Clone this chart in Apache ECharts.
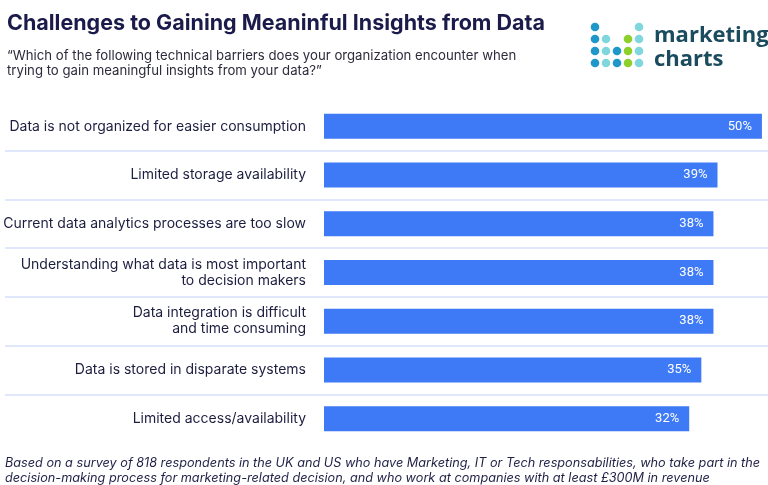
<!DOCTYPE html>
<html>
<head>
<meta charset="utf-8">
<script src="https://cdn.jsdelivr.net/npm/echarts@6/dist/echarts.min.js"></script>
<style>html,body{margin:0;padding:0;background:#fff}#c{width:768px;height:485px}</style>
</head>
<body>
<div id="c"></div>
<script>
const categories = [
  'Data is not organized for easier consumption',
  'Limited storage availability',
  'Current data analytics processes are too slow',
  'Understanding what data is most important\nto decision makers',
  'Data integration is difficult\nand time consuming',
  'Data is stored in disparate systems',
  'Limited access/availability'
];
const values = [50, 39, 38, 38, 38, 35, 32];

const titleText = 'Challenges to Gaining Meaninful Insights from Data';
const subtitleText = '\u201cWhich of the following technical barriers does your organization encounter when\ntrying to gain meaningful insights from your data?\u201d';
const footerText = 'Based on a survey of 818 respondents in the UK and US who have Marketing, IT or Tech responsabilities, who take part in the\ndecision-making process for marketing-related decision, and who work at companies with at least \u00a3300M in revenue';

const chart = echarts.init(document.getElementById('c'), null, {renderer: 'canvas'});

// logo dots (decoration)
const dotCols = [595, 606, 617, 628, 639];
const dotRows = [27, 39, 51, 63];
const B = '#1f97c9', L = '#7fd7dd', G = '#8dcf2b';
const dotPattern = [
  [B, null, null, null, L],
  [B, L, null, G, L],
  [B, L, B, G, L],
  [B, L, B, G, L]
];
const logo = [];
dotPattern.forEach((row, r) => row.forEach((col, c) => {
  if (col) logo.push({type: 'circle', shape: {cx: dotCols[c], cy: dotRows[r], r: 4.3}, style: {fill: col}, silent: true});
}));
logo.push({type: 'text', left: 654, top: 24, style: {text: 'marketing\ncharts', fill: '#1b4b5e', font: 'bold 22px "Open Sans"', lineHeight: 24}});

chart.setOption({
  animation: false,
  backgroundColor: '#fff',
  title: [
    {text: titleText, left: 7, top: 13, padding: 0, textStyle: {fontFamily: 'Inter', fontWeight: 'bold', fontSize: 21.5, color: '#1b1b4b'}},
    {text: subtitleText, left: 7, top: 49, padding: 0, textStyle: {fontFamily: 'Inter', fontWeight: 'normal', fontSize: 13.2, lineHeight: 15, color: '#2c2c3c'}},
    {text: footerText, left: 5, top: 456, padding: 0, textStyle: {fontFamily: 'Inter', fontStyle: 'italic', fontWeight: 'normal', fontSize: 12.7, lineHeight: 15, color: '#1f2045'}}
  ],
  graphic: logo,
  grid: [
    {left: 324, right: 0, top: 102, height: 341},
    {left: 5, right: 0, top: 102, height: 341}
  ],
  xAxis: [
    {gridIndex: 0, type: 'value', min: 0, max: 51.5, show: false,
     breaks: [{start: 1, end: 30, gap: 87.4}], breakArea: {show: false}},
    {gridIndex: 1, type: 'value', show: false}
  ],
  yAxis: [
    {gridIndex: 0, type: 'category', data: categories, inverse: true,
     axisLine: {show: false}, axisTick: {show: false}, splitLine: {show: false},
     axisLabel: {margin: 18, fontFamily: 'Inter', fontSize: 14, lineHeight: 16, color: '#1d1d40', align: 'right'}},
    {gridIndex: 1, type: 'category', data: categories, inverse: true,
     axisLine: {show: false}, axisTick: {show: false}, axisLabel: {show: false},
     splitLine: {show: true, showMinLine: false, showMaxLine: false, lineStyle: {color: '#e1e7fb', width: 2}}}
  ],
  series: [{
    type: 'bar', xAxisIndex: 0, yAxisIndex: 0, data: values, barWidth: 25,
    itemStyle: {color: '#3f7af6'},
    label: {show: true, position: 'insideRight', distance: 10, formatter: '{c}%', color: '#fff', fontFamily: 'Roboto', fontSize: 13}
  }]
});
</script>
</body>
</html>
